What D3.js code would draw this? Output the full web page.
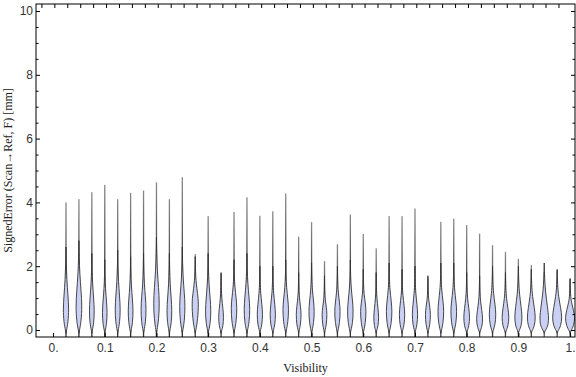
<!DOCTYPE html>
<meta charset="utf-8">
<style>
  body { margin: 0; background: #fff; }
  svg { font-family: "Liberation Serif", "DejaVu Serif", serif; }
  .axis .domain { display: none; }
  .axis line { stroke: #000; }
  .axis text { fill: #333; font-size: 12px; }
</style>
<body>
<script src="https://d3js.org/d3.v7.min.js"></script>
<script>

  // visibility bins (violin centres)
  var visibility = [0.025, 0.05, 0.075, 0.1, 0.125, 0.15, 0.175, 0.2, 0.225, 0.25,
    0.275, 0.3, 0.325, 0.35, 0.375, 0.4, 0.425, 0.45, 0.475, 0.5,
    0.525, 0.55, 0.575, 0.6, 0.625, 0.65, 0.675, 0.7, 0.725, 0.75,
    0.775, 0.8, 0.825, 0.85, 0.875, 0.9, 0.925, 0.95, 0.975, 1.0];

  // max of each distribution [mm]
  var maxErr = [4.00, 4.10, 4.32, 4.55, 4.10, 4.30, 4.37, 4.63, 4.10, 4.79,
    2.38, 3.57, 1.76, 3.70, 4.16, 3.58, 3.72, 4.28, 2.93, 3.38,
    2.16, 2.69, 3.62, 3.01, 2.56, 3.57, 3.57, 3.81, 1.64, 3.39,
    3.49, 3.29, 3.02, 2.66, 2.45, 2.23, 2.04, 1.82, 1.86, 1.63];

  // min of each distribution [mm]
  var minErr = [-0.61, -0.76, -0.71, -1.08, -0.64, -0.91, -0.67, -0.94, -0.93, -0.73,
    -0.44, -0.74, -0.43, -0.49, -0.90, -0.47, -0.47, -0.49, -0.40, -0.45,
    -0.42, -0.54, -0.48, -0.49, -0.45, -0.50, -0.43, -0.44, -0.34, -0.39,
    -0.40, -0.34, -0.34, -0.47, -0.35, -0.35, -0.31, -0.23, -0.26, -0.23];

  // mode (densest value) [mm]
  var modeErr = [0.65, 0.75, 0.60, 0.55, 0.65, 0.60, 0.65, 0.85, 0.60, 0.75,
    0.85, 0.60, 0.40, 0.70, 0.65, 0.50, 0.50, 0.65, 0.50, 0.60,
    0.50, 0.60, 0.60, 0.60, 0.40, 0.60, 0.50, 0.50, 0.50, 0.60,
    0.60, 0.40, 0.35, 0.50, 0.40, 0.40, 0.40, 0.35, 0.40, 0.40];

  // where the bulk of the body ends [mm]
  var bodyTop = [2.1, 2.3, 1.9, 1.7, 2.0, 1.8, 1.9, 2.4, 1.9, 2.1,
    1.8, 1.9, 1.3, 1.7, 1.9, 1.5, 1.5, 1.7, 1.3, 1.6,
    1.2, 1.5, 1.7, 1.4, 1.3, 1.6, 1.4, 1.5, 1.2, 1.6,
    1.6, 1.3, 1.2, 1.5, 1.3, 1.5, 1.4, 1.6, 1.4, 1.1];

  // peak density (relative)
  var peakDensity = [0.55, 0.60, 0.50, 0.48, 0.52, 0.50, 0.52, 0.58, 0.50, 0.55,
    0.65, 0.55, 0.50, 0.58, 0.58, 0.55, 0.55, 0.58, 0.50, 0.55,
    0.50, 0.56, 0.58, 0.56, 0.50, 0.58, 0.56, 0.55, 0.52, 0.60,
    0.60, 0.60, 0.62, 0.68, 0.70, 0.75, 0.82, 0.90, 0.95, 0.95];

  var xTicks = [0, 0.1, 0.2, 0.3, 0.4, 0.5, 0.6, 0.7, 0.8, 0.9, 1.0];
  var yTicks = [0, 2, 4, 6, 8, 10];

  var data = visibility.map(function (v, i) {
    return { x: v, max: maxErr[i], min: minErr[i], mode: modeErr[i], top: bodyTop[i], dens: peakDensity[i] };
  });

  var W = 576, H = 377;
  var frame = { left: 36, right: 575, top: 4, bottom: 337 };

  var x = d3.scaleLinear().domain([-0.033, 1.0095]).range([frame.left, frame.right]);
  var y = d3.scaleLinear().domain([-0.22, 10.22]).range([frame.bottom, frame.top]);
  var w = d3.scaleLinear().domain([0, 1]).range([0, 5.2]);

  var svg = d3.select("body").append("svg")
    .attr("width", W)
    .attr("height", H);

  var defs = svg.append("defs");
  defs.append("clipPath").attr("id", "clip")
    .append("rect")
    .attr("x", frame.left).attr("y", frame.top)
    .attr("width", frame.right - frame.left).attr("height", frame.bottom - frame.top);

  var gUp = defs.append("linearGradient").attr("id", "tailUp")
    .attr("x1", 0).attr("y1", 0).attr("x2", 0).attr("y2", 1);
  gUp.append("stop").attr("offset", 0).attr("stop-color", "#8a8a8a");
  gUp.append("stop").attr("offset", 0.6).attr("stop-color", "#444");
  gUp.append("stop").attr("offset", 1).attr("stop-color", "#222");

  var gDown = defs.append("linearGradient").attr("id", "tailDown")
    .attr("x1", 0).attr("y1", 0).attr("x2", 0).attr("y2", 1);
  gDown.append("stop").attr("offset", 0).attr("stop-color", "#1a1a1a");
  gDown.append("stop").attr("offset", 1).attr("stop-color", "#777");

  var plot = svg.append("g").attr("clip-path", "url(#clip)");

  // violin outline: a smooth teardrop from bottom point, through the mode, tapering into the tail
  var area = d3.area()
    .curve(d3.curveBasis)
    .y(function (p) { return y(p.v); })
    .x0(function (p) { return p.cx - w(p.d); })
    .x1(function (p) { return p.cx + w(p.d); });

  function profile(d) {
    var cx = x(d.x), b = -0.1, p = d.mode, t = d.top;
    return [
      { v: b, d: 0 },
      { v: b + 0.06, d: d.dens * 0.12 },
      { v: b + (p - b) * 0.45, d: d.dens * 0.75 },
      { v: p, d: d.dens },
      { v: p + (t - p) * 0.3, d: d.dens * 0.7 },
      { v: p + (t - p) * 0.65, d: d.dens * 0.28 },
      { v: t, d: d.dens * 0.08 },
      { v: t + 0.5, d: 0 }
    ].map(function (q) { q.cx = cx; return q; });
  }

  var violins = plot.selectAll(".violin").data(data).enter().append("g")
    .attr("class", "violin");

  violins.append("rect")
    .attr("x", function (d) { return x(d.x) - 0.65; })
    .attr("width", 1.3)
    .attr("y", function (d) { return y(d.max); })
    .attr("height", function (d) { return y(d.mode) - y(d.max); })
    .attr("fill", "url(#tailUp)");

  violins.append("rect")
    .attr("x", function (d) { return x(d.x) - 0.65; })
    .attr("width", 1.3)
    .attr("y", y(0))
    .attr("height", function (d) { return y(d.min) - y(0); })
    .attr("fill", "url(#tailDown)");

  violins.append("path")
    .attr("d", function (d) { return area(profile(d)); })
    .attr("fill", "#cad0f3")
    .attr("stroke", "#333")
    .attr("stroke-width", 0.9);

  // axes
  var fmtX = function (d) { return d === 0 ? "0." : d === 1 ? "1." : d3.format(".1f")(d); };

  svg.append("g").attr("class", "axis")
    .attr("transform", "translate(0," + frame.bottom + ")")
    .call(d3.axisBottom(x).tickValues(xTicks).tickSize(-4).tickPadding(6).tickFormat(fmtX));

  svg.append("g").attr("class", "axis")
    .attr("transform", "translate(0," + frame.top + ")")
    .call(d3.axisTop(x).tickValues(d3.range(41).map(function (i) { return -0.0225 + 0.025 * i; }))
      .tickSize(-4).tickFormat(""));

  svg.append("g").attr("class", "axis")
    .attr("transform", "translate(" + frame.left + ",0)")
    .call(d3.axisLeft(y).tickValues(yTicks).tickSize(-4).tickPadding(3));

  svg.append("g").attr("class", "axis")
    .attr("transform", "translate(" + frame.left + ",0)")
    .call(d3.axisLeft(y).tickValues(d3.range(0, 10.01, 0.5).filter(function (v) { return v % 2; }))
      .tickSize(-2.5).tickFormat(""));

  svg.append("g").attr("class", "axis")
    .attr("transform", "translate(" + frame.right + ",0)")
    .call(d3.axisRight(y).tickValues(yTicks).tickSize(-4).tickFormat(""));

  svg.append("g").attr("class", "axis")
    .attr("transform", "translate(" + frame.right + ",0)")
    .call(d3.axisRight(y).tickValues(d3.range(0, 10.01, 0.5).filter(function (v) { return v % 2; }))
      .tickSize(-2.5).tickFormat(""));

  svg.append("rect")
    .attr("x", frame.left).attr("y", frame.top)
    .attr("width", frame.right - frame.left).attr("height", frame.bottom - frame.top)
    .attr("fill", "none").attr("stroke", "#000").attr("stroke-width", 1);

  svg.append("text")
    .attr("x", (frame.left + frame.right) / 2).attr("y", 372)
    .attr("text-anchor", "middle").attr("font-size", 12).attr("fill", "#222")
    .text("Visibility");

  svg.append("text")
    .attr("transform", "translate(12," + (frame.top + frame.bottom) / 2 + ") rotate(-90)")
    .attr("text-anchor", "middle").attr("font-size", 12).attr("fill", "#222")
    .text("SignedError (Scan\u2192Ref, F) [mm]");

</script>
</body>
